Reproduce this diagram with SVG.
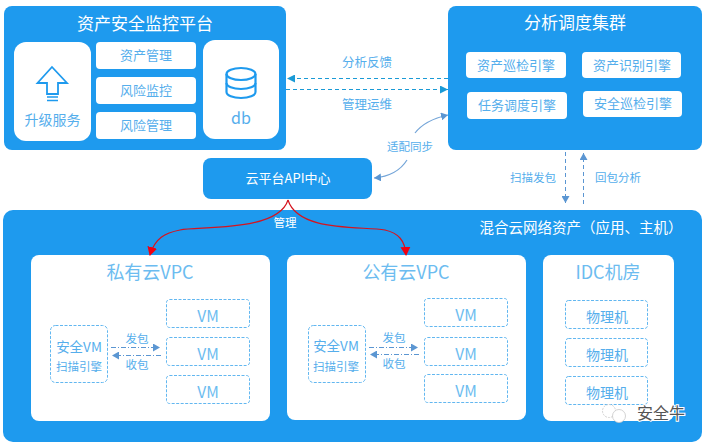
<svg xmlns="http://www.w3.org/2000/svg" width="708" height="444" viewBox="0 0 708 444">
<style>
text{font-family:"Noto Sans CJK SC","Liberation Sans",sans-serif;text-anchor:middle;font-weight:400}
.panel{fill:#1e9aee}
.card{fill:#fff}
.w{fill:#fff}
.b{fill:#55aeec}
.lb{fill:#6cbcf0}
.dash{fill:#fff;stroke:#62b7f0;stroke-width:1;stroke-dasharray:3 1.5}
.f14{font-size:14px}.f13{font-size:13px}.f12{font-size:12.500px}.f11{font-size:11.500px}.f18{font-size:18px}.f17{font-size:17px}.vm{font-size:15.500px}
.conn{fill:none}
.teal{stroke:#1a9ad6;stroke-width:1.2;stroke-dasharray:4 3}
.steel{stroke:#5b96d2;stroke-width:1;stroke-dasharray:4 3}
.mini{stroke:#5b96d2;stroke-width:1;stroke-dasharray:5 2 1 2}
.curve{stroke:#74a5d8;stroke-width:1.2}
.red{stroke:#d5141e;stroke-width:1.2}
</style>
<defs>
<marker id="mt" markerWidth="9" markerHeight="8" refX="8" refY="4" orient="auto" markerUnits="userSpaceOnUse"><path d="M0 0L8 4L0 8z" fill="#1a9ad6"/></marker>
<marker id="ms" markerWidth="9" markerHeight="8" refX="7" refY="4" orient="auto" markerUnits="userSpaceOnUse"><path d="M0 0L7 4L0 8z" fill="#5b96d2"/></marker>
<marker id="mr" markerWidth="10" markerHeight="10" refX="8" refY="5" orient="auto" markerUnits="userSpaceOnUse"><path d="M0 0L9 5L0 10z" fill="#f00012"/></marker>
</defs>
<rect width="708" height="444" fill="#fff"/>

<g id="monitor-platform">
<rect class="panel" x="4" y="6" width="282" height="144" rx="8"/>
<text class="w f17" x="145" y="30">资产安全监控平台</text>
</g>
<g id="upgrade">
<rect class="card" x="14" y="42" width="77" height="99" rx="12"/>
<path d="M52 67L67 83H58V94H47V83H37.500z" fill="none" stroke="#1e9aee" stroke-width="1.800"/>
<path d="M47 97H58M47 100.500H58" stroke="#1e9aee" stroke-width="1.500"/>
<text class="b f14" x="52.500" y="125">升级服务</text>
</g>
<g id="asset-mgmt"><rect class="card" x="96" y="42" width="100" height="27" rx="4"/><text class="b f13" x="146" y="60">资产管理</text></g>
<g id="risk-monitor"><rect class="card" x="96" y="77" width="100" height="27" rx="4"/><text class="b f13" x="146" y="95">风险监控</text></g>
<g id="risk-mgmt"><rect class="card" x="96" y="112" width="100" height="27" rx="4"/><text class="b f13" x="146" y="130">风险管理</text></g>
<g id="db">
<rect class="card" x="203" y="40" width="76" height="99" rx="12"/>
<g fill="none" stroke="#1e9aee" stroke-width="2.200">
<ellipse cx="241" cy="74" rx="14.500" ry="6"/>
<path d="M226.500 74V92C226.500 95.500 233 98 241 98S255.500 95.500 255.500 92V74"/>
<path d="M226.500 83C226.500 86.500 233 89 241 89S255.500 86.500 255.500 83"/>
</g>
<text class="b" x="241" y="124" font-size="16">db</text>
</g>

<g id="analysis-cluster">
<rect class="panel" x="448" y="6" width="254" height="144" rx="8"/>
<text class="w f17" x="575" y="29">分析调度集群</text>
</g>
<g id="engine-asset-patrol"><rect class="card" x="466" y="52" width="100" height="26" rx="4"/><text class="b f13" x="516" y="70">资产巡检引擎</text></g>
<g id="engine-asset-id"><rect class="card" x="582" y="52" width="99" height="26" rx="4"/><text class="b f13" x="632" y="70">资产识别引擎</text></g>
<g id="engine-task"><rect class="card" x="467" y="92" width="100" height="27" rx="4"/><text class="b f13" x="517" y="110">任务调度引擎</text></g>
<g id="engine-security"><rect class="card" x="583" y="91" width="99" height="26" rx="4"/><text class="b f13" x="633" y="108">安全巡检引擎</text></g>

<g id="api-center">
<rect class="panel" x="203" y="158" width="169" height="41" rx="8"/>
<text class="w f13" x="288" y="183">云平台API中心</text>
</g>

<g id="hybrid-assets">
<rect class="panel" x="3" y="210" width="699" height="232" rx="10"/>
<text class="w" font-size="14.500" x="581" y="233">混合云网络资产（应用、主机）</text>
</g>

<g id="private-vpc">
<rect class="card" x="31" y="255" width="239" height="166" rx="8"/>
<text class="lb f18" x="150" y="279">私有云VPC</text>
</g>
<g id="private-sec"><rect class="dash" x="50.500" y="325.500" width="57" height="57" rx="5"/><text class="b" font-size="13.500" x="79" y="352">安全VM</text><text class="b f11" x="79" y="371">扫描引擎</text></g>
<g id="private-vm1"><rect class="dash" x="166.500" y="299.500" width="83" height="28" rx="3"/><text class="lb vm" x="208" y="321.500">VM</text></g>
<g id="private-vm2"><rect class="dash" x="166.500" y="337.500" width="83" height="28" rx="3"/><text class="lb vm" x="208" y="359.500">VM</text></g>
<g id="private-vm3"><rect class="dash" x="166.500" y="375.500" width="83" height="28" rx="3"/><text class="lb vm" x="208" y="397.500">VM</text></g>

<g id="public-vpc">
<rect class="card" x="287" y="255" width="239" height="165" rx="8"/>
<text class="lb f18" x="406" y="279">公有云VPC</text>
</g>
<g id="public-sec"><rect class="dash" x="308.500" y="325.500" width="57" height="57" rx="5"/><text class="b" font-size="13.500" x="336" y="351">安全VM</text><text class="b f11" x="336" y="371">扫描引擎</text></g>
<g id="public-vm1"><rect class="dash" x="424.500" y="298.500" width="83" height="28" rx="3"/><text class="lb vm" x="466" y="320.500">VM</text></g>
<g id="public-vm2"><rect class="dash" x="424.500" y="337.500" width="83" height="28" rx="3"/><text class="lb vm" x="466" y="359.500">VM</text></g>
<g id="public-vm3"><rect class="dash" x="424.500" y="374.500" width="83" height="28" rx="3"/><text class="lb vm" x="466" y="396.500">VM</text></g>

<g id="idc">
<rect class="card" x="543" y="255" width="131" height="166" rx="8"/>
<text class="lb f18" x="608" y="279">IDC机房</text>
</g>
<g id="idc-pm1"><rect class="dash" x="565.500" y="300.500" width="82" height="28" rx="3"/><text class="b f14" x="607" y="322">物理机</text></g>
<g id="idc-pm2"><rect class="dash" x="565.500" y="338.500" width="82" height="28" rx="3"/><text class="b f14" x="607" y="360">物理机</text></g>
<g id="idc-pm3"><rect class="dash" x="565.500" y="376.500" width="82" height="28" rx="3"/><text class="b f14" x="607" y="398">物理机</text></g>

<g id="connectors" class="conn">
<path class="teal" d="M448 78.500H287" marker-end="url(#mt)"/>
<path class="teal" d="M286 89.500H448" marker-end="url(#mt)"/>
<path class="curve" d="M415 133Q425 120 448 115" marker-end="url(#ms)"/>
<path class="curve" d="M407 160Q397 176 374 178" marker-end="url(#ms)"/>
<path class="steel" d="M565.500 152V203" marker-end="url(#ms)"/>
<path class="steel" d="M583.500 204V153" marker-end="url(#ms)"/>
<path class="red" d="M288 200C278 232 200 226 180 230C165 233 155 238 150 255" marker-end="url(#mr)"/>
<path class="red" d="M288 200C298 232 360 226 385 230C398 233 405 240 406 255" marker-end="url(#mr)"/>
<path class="mini" d="M111 347.500H160" marker-end="url(#ms)"/>
<path class="mini" d="M161 355.500H112" marker-end="url(#ms)"/>
<path class="mini" d="M369 347.500H418" marker-end="url(#ms)"/>
<path class="mini" d="M419 354.500H370" marker-end="url(#ms)"/>
</g>

<g id="connector-labels">
<text class="b f12" x="367" y="67">分析反馈</text>
<text class="b f12" x="367" y="109">管理运维</text>
<text class="b f11" x="410" y="151">适配同步</text>
<text class="b f11" x="533" y="182">扫描发包</text>
<text class="b f11" x="618" y="182">回包分析</text>
<text class="w f11" x="285" y="227">管理</text>
<text class="b f11" x="137" y="343">发包</text>
<text class="b f11" x="137" y="369">收包</text>
<text class="b f11" x="394" y="342">发包</text>
<text class="b f11" x="394" y="368">收包</text>
</g>

<g id="watermark">
<circle cx="609" cy="411" r="6.500" fill="#fff" stroke="#c8c8c8" stroke-width="0.800" stroke-dasharray="2 1"/>
<circle cx="619" cy="416" r="6.500" fill="#fff" stroke="#c8c8c8" stroke-width="0.800"/>
<text x="661" y="419" font-size="16" fill="#555" stroke="#fff" stroke-width="2" paint-order="stroke">安全牛</text>
</g>
</svg>
